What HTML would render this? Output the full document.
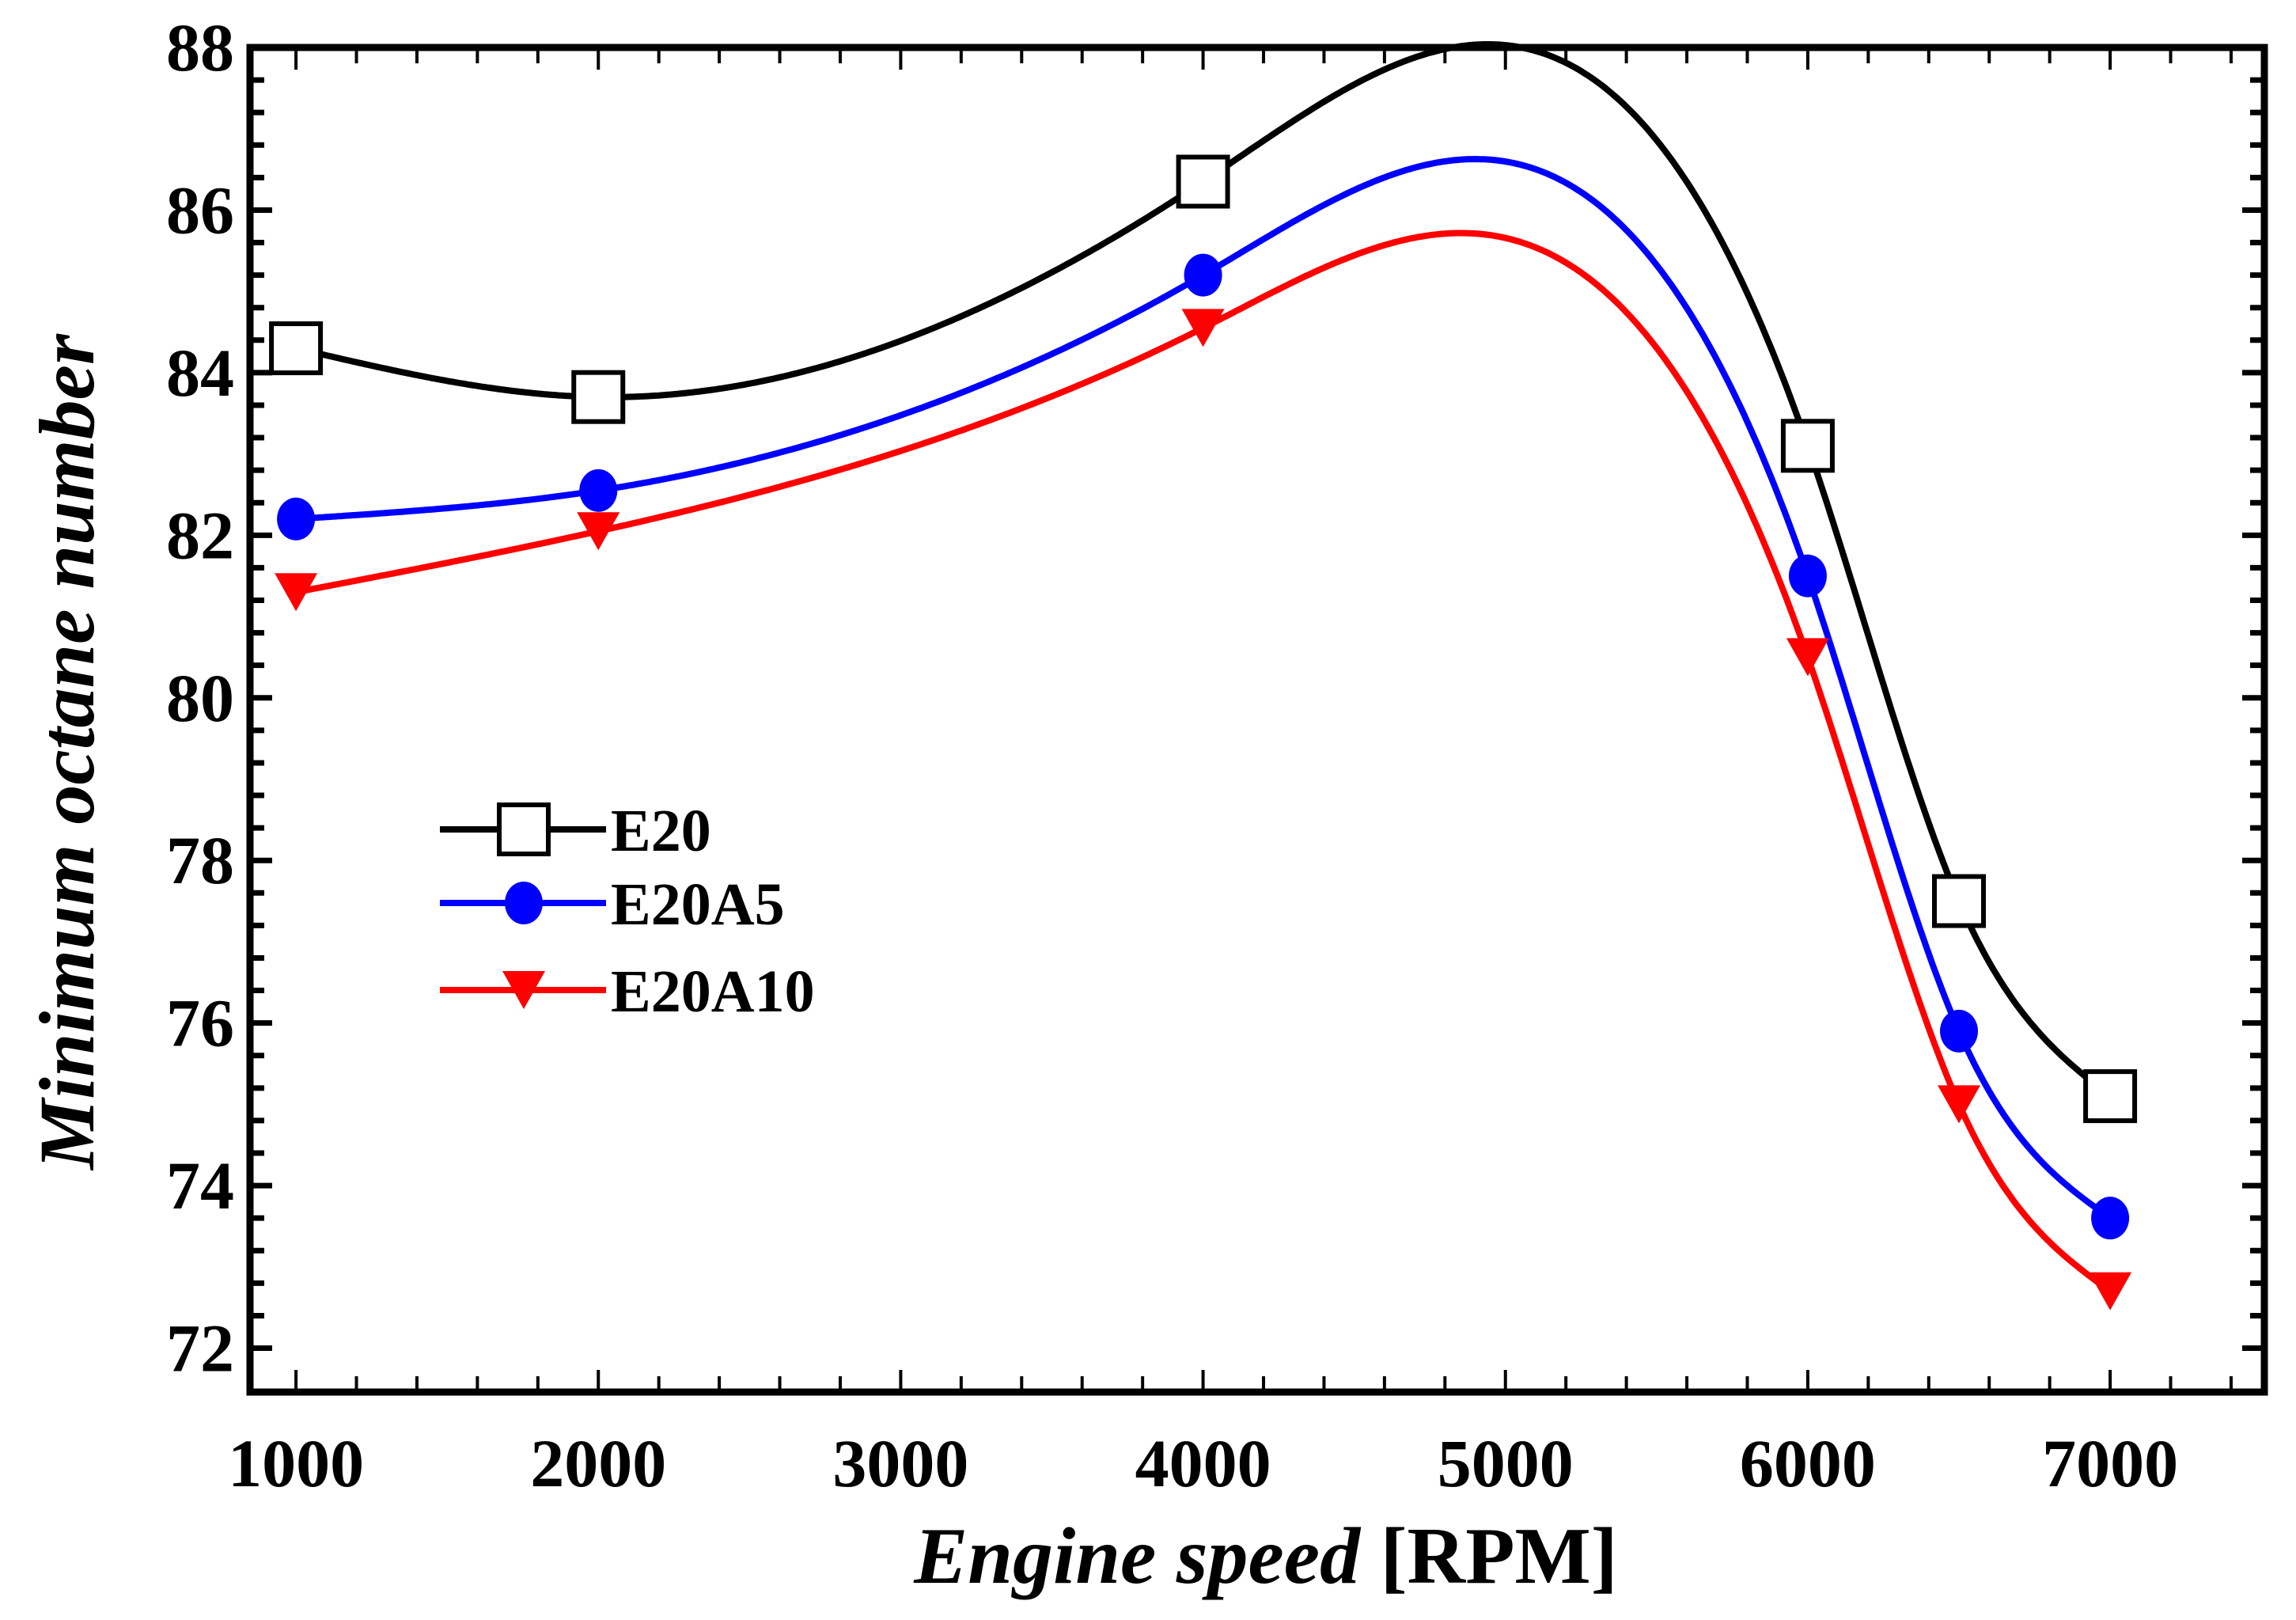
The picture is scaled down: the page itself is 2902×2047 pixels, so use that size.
<!DOCTYPE html>
<html><head><meta charset="utf-8"><style>
html,body{margin:0;padding:0;background:#fff}
svg{display:block}
text{font-family:"Liberation Serif",serif;font-weight:bold;fill:#000}
</style></head><body>
<svg id="chart" width="2902" height="2047" viewBox="0 0 2902 2047" xmlns="http://www.w3.org/2000/svg">
<g id="grid"></g>
<g id="series"></g>
<g id="axes"></g>
<g id="legend"></g>
<text x="1600" y="2000" text-anchor="middle" font-size="102"><tspan font-style="italic">Engine speed</tspan> [RPM]</text>
<text transform="translate(118,950) rotate(-90)" text-anchor="middle" font-size="100" font-style="italic">Minimum octane number</text>
</svg>
<script>
const speeds = [1000, 2000, 4000, 6000, 6500, 7000];
const e20 = [84.3, 83.7, 86.35, 83.1, 77.5, 75.1];
const e20a5 = [82.2, 82.55, 85.2, 81.5, 75.9, 73.6];
const e20a10 = [81.3, 82.05, 84.55, 80.5, 75.0, 72.7];
const xTicks = [1000, 2000, 3000, 4000, 5000, 6000, 7000];
const yTicks = [72, 74, 76, 78, 80, 82, 84, 86, 88];
const seriesNames = ["E20", "E20A5", "E20A10"];

const L=316,R=2862,T=60,B=1759;
const X0=848,X1=7510,Y0=71.46,Y1=88.0;
const sx=v=>L+(v-X0)/(X1-X0)*(R-L);
const sy=v=>B-(v-Y0)/(Y1-Y0)*(B-T);
const NS="http://www.w3.org/2000/svg";
function mk(tag,attrs,parent){const e=document.createElementNS(NS,tag);for(const k in attrs)e.setAttribute(k,attrs[k]);parent.appendChild(e);return e;}
const axes=document.getElementById('axes'),series=document.getElementById('series'),legend=document.getElementById('legend');

function spline(xs,ys){
  const n=xs.length,h=[],a=[],l=[1],mu=[0],z=[0],c=new Array(n).fill(0),b=[],d=[];
  for(let i=0;i<n-1;i++)h[i]=xs[i+1]-xs[i];
  for(let i=1;i<n-1;i++)a[i]=3/h[i]*(ys[i+1]-ys[i])-3/h[i-1]*(ys[i]-ys[i-1]);
  for(let i=1;i<n-1;i++){l[i]=2*(xs[i+1]-xs[i-1])-h[i-1]*mu[i-1];mu[i]=h[i]/l[i];z[i]=(a[i]-h[i-1]*z[i-1])/l[i];}
  for(let j=n-2;j>=0;j--){c[j]=z[j]-mu[j]*c[j+1];b[j]=(ys[j+1]-ys[j])/h[j]-h[j]*(c[j+1]+2*c[j])/3;d[j]=(c[j+1]-c[j])/(3*h[j]);}
  return x=>{let i=0;while(i<n-2&&x>xs[i+1])i++;const t=x-xs[i];return ys[i]+b[i]*t+c[i]*t*t+d[i]*t*t*t;};
}

function marker(type,cx,cy,color,parent,name){
  let e;
  if(type==='square'){e=mk('rect',{x:cx-31,y:cy-31,width:62,height:62,fill:'#fff',stroke:'#000','stroke-width':6},parent);}
  else if(type==='circle'){e=mk('ellipse',{cx:cx,cy:cy,rx:24,ry:27,fill:color},parent);}
  else {e=mk('polygon',{points:`${cx-27},${cy-24} ${cx+27},${cy-24} ${cx},${cy+24}`,fill:color},parent);}
  
  
}

const defs=[[e20,'#000','square'],[e20a5,'#0000ff','circle'],[e20a10,'#ff0000','triangle']];
defs.forEach(([vals,col,mt],si)=>{
  const f=spline(speeds,vals);let d='';
  for(let x=speeds[0];x<=speeds[speeds.length-1];x+=10){d+=(d?'L':'M')+sx(x).toFixed(1)+','+sy(f(x)).toFixed(1);}
  const p=mk('path',{d:d,fill:'none',stroke:col,'stroke-width':8},series);
  
  
});
defs.forEach(([vals,col,mt],si)=>{
  vals.forEach((v,i)=>marker(mt,sx(speeds[i]),sy(v),col,series,'point-'+seriesNames[si].toLowerCase()+'-'+speeds[i]));
});

const fr=mk('rect',{x:L,y:T,width:R-L,height:B-T,fill:'none',stroke:'#000','stroke-width':9},axes);


for(let v=1000;v<=7400;v+=200){
  const maj=v%1000===0,len=maj?28:20,x=sx(v);
  mk('line',{x1:x,y1:B,x2:x,y2:B-len,stroke:'#000','stroke-width':4},axes);
  mk('line',{x1:x,y1:T,x2:x,y2:T+len,stroke:'#000','stroke-width':4},axes);
}
for(let v=72;v<=88.001;v+=0.4){
  const maj=Math.abs(v-Math.round(v))<0.01&&Math.round(v)%2===0,len=maj?28:18,y=sy(v);
  mk('line',{x1:L,y1:y,x2:L+len,y2:y,stroke:'#000','stroke-width':7},axes);
  mk('line',{x1:R,y1:y,x2:R-len,y2:y,stroke:'#000','stroke-width':7},axes);
}
xTicks.forEach(v=>{
  const t=mk('text',{x:sx(v),y:1878,'text-anchor':'middle','font-size':86},axes);t.textContent=v;
  
  
});
yTicks.forEach(v=>{
  const t=mk('text',{x:296,y:sy(v)+29,'text-anchor':'end','font-size':86},axes);t.textContent=v;
  
  
});

const ly=[1048,1141,1251];
defs.forEach(([vals,col,mt],i)=>{
  const g=mk('g',{},legend);
  
  
  mk('line',{x1:556,y1:ly[i],x2:766,y2:ly[i],stroke:col,'stroke-width':8},g);
  marker(mt,662,ly[i],col,g,'legend-marker-'+seriesNames[i].toLowerCase());
  const t=mk('text',{x:772,y:ly[i]+27,'font-size':76},g);t.textContent=seriesNames[i];
});
</script>
</body></html>
